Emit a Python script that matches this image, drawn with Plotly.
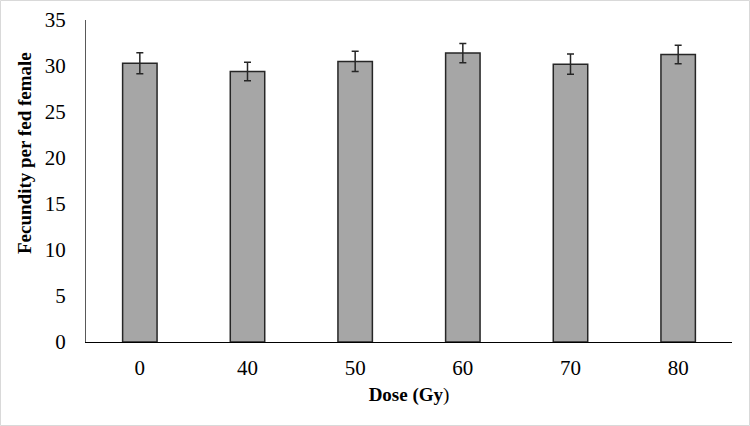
import plotly.graph_objects as go

doses = ["0", "40", "50", "60", "70", "80"]
fecundity = [30.3, 29.4, 30.5, 31.4, 30.2, 31.25]
errors = [1.15, 1.0, 1.1, 1.05, 1.1, 1.0]
y_ticks = [0, 5, 10, 15, 20, 25, 30, 35]

W, H = 750, 426
ml, mr, mt, mb = 86, 18, 20, 84
pw, ph = W - ml - mr, H - mt - mb

FAM = "Times New Roman, Liberation Serif, serif"
FS = 19
TFS = 21

fig = go.Figure(go.Bar(
    x=doses, y=fecundity,
    marker=dict(color="#a6a6a6", line=dict(color="#262626", width=1.5)),
    width=0.32,
    error_y=dict(type="data", array=errors, visible=True, color="#262626", thickness=1.5, width=3.5),
))

fig.update_layout(
    width=W, height=H,
    margin=dict(l=ml, r=mr, t=mt, b=mb, autoexpand=False),
    plot_bgcolor="white", paper_bgcolor="white",
    font=dict(family=FAM, size=FS, color="black"),
    showlegend=False,
    xaxis=dict(showline=True, linecolor="black", linewidth=1.3, ticks="", showgrid=False,
               automargin=False,
               tickfont=dict(family=FAM, size=TFS, color="black"), ticklabelstandoff=7,
               title=dict(text="<b>Dose (Gy</b>)", font=dict(family=FAM, size=FS, color="black"), standoff=8)),
    yaxis=dict(range=[0, 35], tickvals=y_ticks, showline=True, linecolor="#595959", linewidth=1.3,
               ticks="", showgrid=False, automargin=False,
               tickfont=dict(family=FAM, size=TFS, color="black"),
               ticklabelstandoff=15, zeroline=False),
)

fig.add_annotation(
    text="<b>Fecundity per fed female</b>", textangle=-90,
    xref="paper", yref="paper", x=(25 - ml) / pw, y=(H - mb - 153) / ph,
    showarrow=False, font=dict(family=FAM, size=FS, color="black"), xanchor="center", yanchor="middle",
)

# light outer border of the chart
fig.add_shape(type="rect", xref="paper", yref="paper",
              x0=(0.5 - ml) / pw, x1=(W - 0.5 - ml) / pw,
              y0=(H - mb - (H - 0.5)) / ph, y1=(H - mb - 0.5) / ph,
              line=dict(color="#d9d9d9", width=1), layer="below")

fig.write_html("out.html", config={"displayModeBar": False},
               post_script="document.body.style.margin='0';document.body.style.padding='0';")
